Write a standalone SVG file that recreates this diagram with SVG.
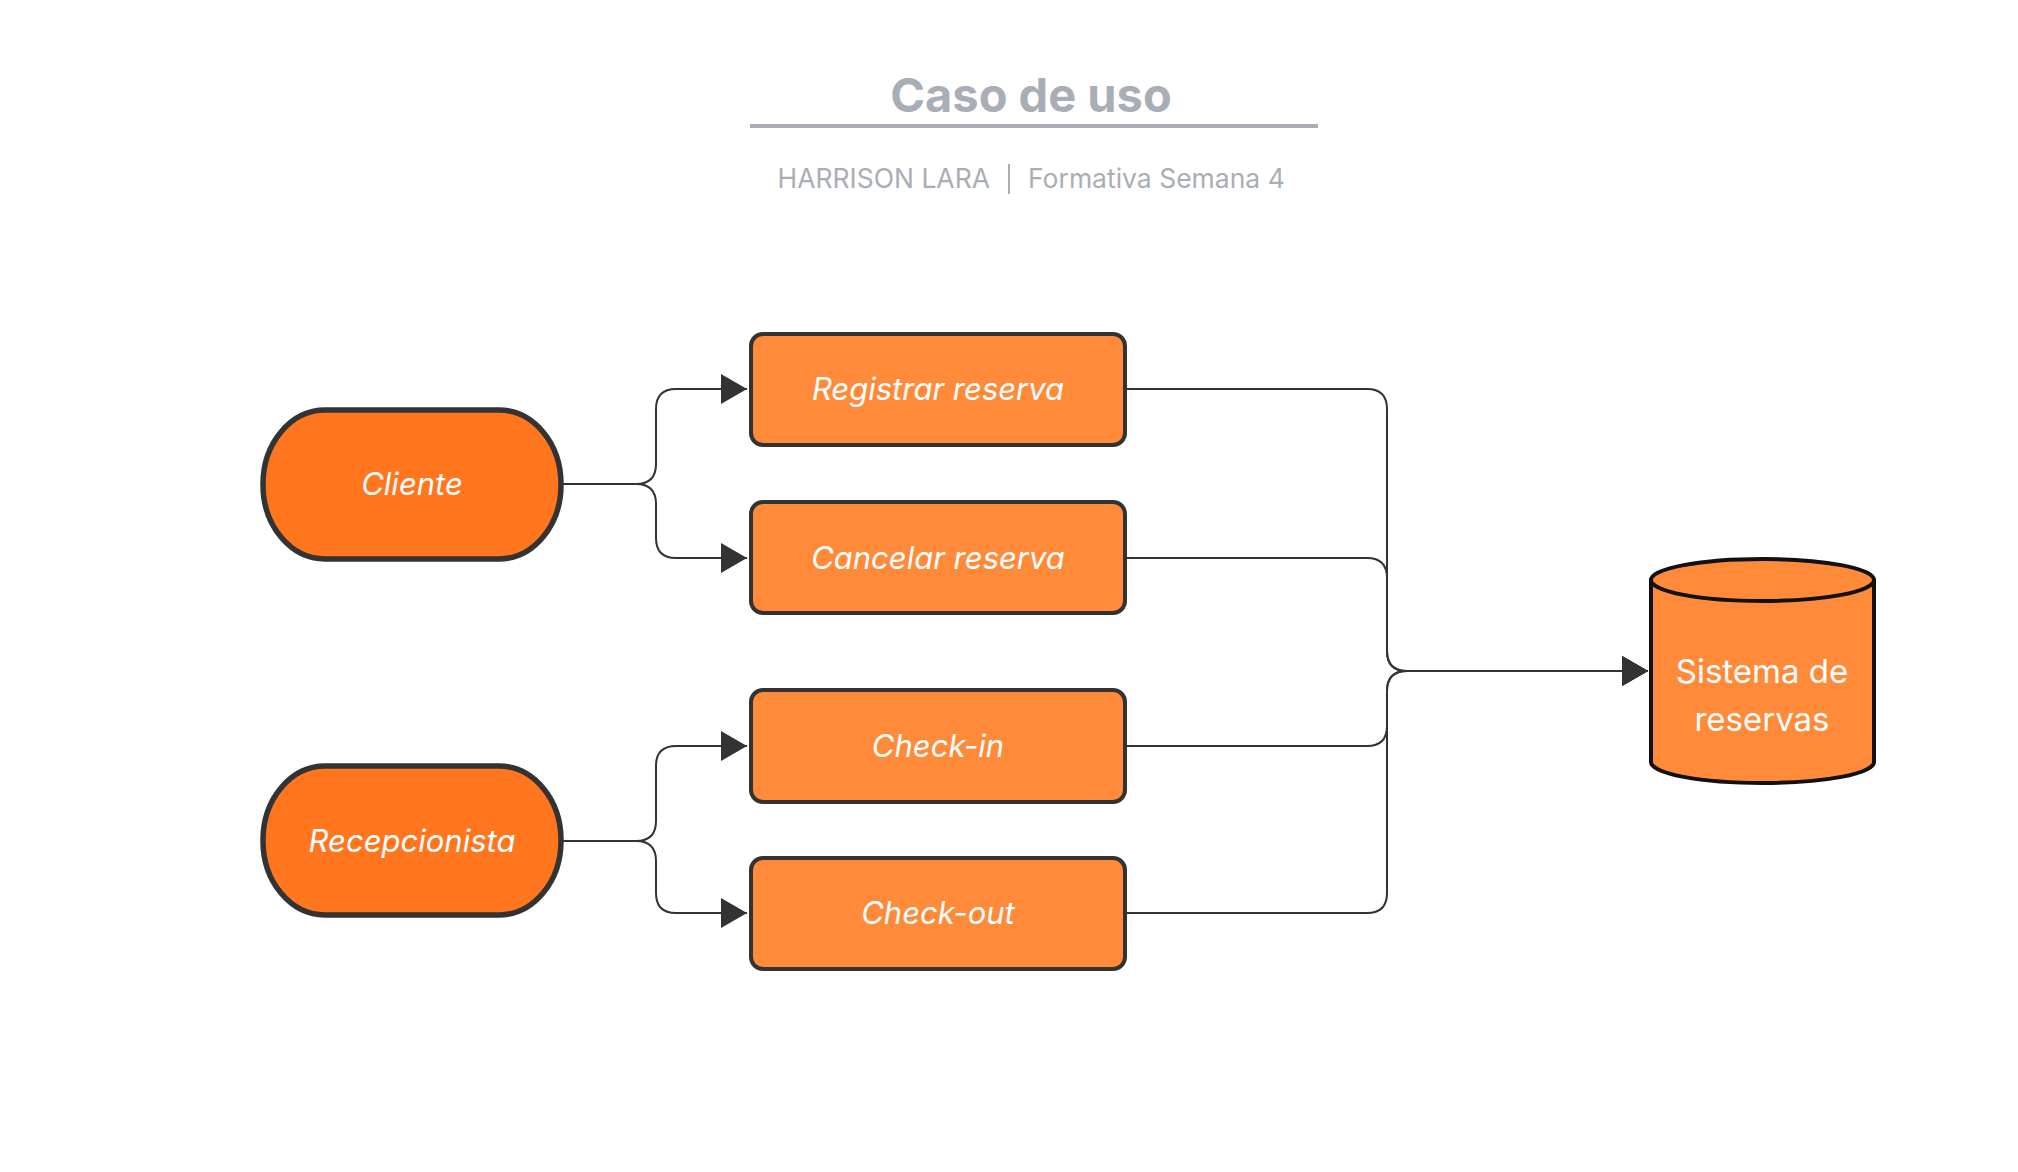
<svg xmlns="http://www.w3.org/2000/svg" width="2018" height="1172" viewBox="0 0 2018 1172">
<defs>
<style>
.title{font-family:Inter,"Liberation Sans",sans-serif;font-weight:700;font-size:47px;fill:#a9aeb6}
.sub{font-family:Inter,"Liberation Sans",sans-serif;font-size:26.5px;fill:#a9aeb6}
.lbl{font-family:Inter,"Liberation Sans",sans-serif;font-size:31px;font-style:italic;fill:#ffffff;text-anchor:middle}
.lbl2{font-family:Inter,"Liberation Sans",sans-serif;font-size:33px;fill:#ffffff;text-anchor:middle}
.actor{fill:#ff761f;stroke:#333333;stroke-width:5.5}
.uc{fill:#ff8a3a;stroke:#333333;stroke-width:4}
.db{fill:#ff8a3a;stroke:#111111;stroke-width:4}
.edge{fill:none;stroke:#333333;stroke-width:2}
</style>
<marker id="arr" markerUnits="userSpaceOnUse" markerWidth="26" markerHeight="30" refX="26" refY="15" orient="auto">
<path d="M0,0 L26,15 L0,30 Z" fill="#333333"/>
</marker>
</defs>
<rect width="2018" height="1172" fill="#ffffff"/>
<g id="header">
<text class="title" x="1031" y="112" text-anchor="middle">Caso de uso</text>
<line x1="750" y1="126" x2="1318" y2="126" stroke="#a9aeb6" stroke-width="4"/>
<text class="sub" x="990" y="188" text-anchor="end">HARRISON LARA</text>
<line x1="1009" y1="164" x2="1009" y2="194" stroke="#a9aeb6" stroke-width="2"/>
<text class="sub" x="1028" y="188">Formativa Semana 4</text>
</g>
<g id="connectors">
<path class="edge" d="M563,484 H636 Q656,484 656,464 V409 Q656,389 676,389 H747" marker-end="url(#arr)"/>
<path class="edge" d="M563,484 H636 Q656,484 656,504 V538 Q656,558 676,558 H747" marker-end="url(#arr)"/>
<path class="edge" d="M563,841 H636 Q656,841 656,821 V766 Q656,746 676,746 H747" marker-end="url(#arr)"/>
<path class="edge" d="M563,841 H636 Q656,841 656,861 V893 Q656,913 676,913 H747" marker-end="url(#arr)"/>
<path class="edge" d="M1125,389 H1367 Q1387,389 1387,409 V651 Q1387,671 1407,671 H1648" marker-end="url(#arr)"/>
<path class="edge" d="M1125,558 H1367 Q1387,558 1387,578 V651 Q1387,671 1407,671 H1648" marker-end="url(#arr)"/>
<path class="edge" d="M1125,746 H1367 Q1387,746 1387,726 V691 Q1387,671 1407,671 H1648" marker-end="url(#arr)"/>
<path class="edge" d="M1125,913 H1367 Q1387,913 1387,893 V691 Q1387,671 1407,671 H1648" marker-end="url(#arr)"/>
</g>
<g id="cliente">
<rect class="actor" x="263" y="410" width="298" height="149" rx="62" ry="74"/>
<text class="lbl" x="412" y="495">Cliente</text>
</g>
<g id="recepcionista">
<rect class="actor" x="263" y="766" width="298" height="149" rx="62" ry="74"/>
<text class="lbl" x="412" y="852">Recepcionista</text>
</g>
<g id="registrar">
<rect class="uc" x="751" y="334" width="374" height="111" rx="12"/>
<text class="lbl" x="938" y="400">Registrar reserva</text>
</g>
<g id="cancelar">
<rect class="uc" x="751" y="502" width="374" height="111" rx="12"/>
<text class="lbl" x="938" y="569">Cancelar reserva</text>
</g>
<g id="checkin">
<rect class="uc" x="751" y="690" width="374" height="112" rx="12"/>
<text class="lbl" x="938" y="757">Check-in</text>
</g>
<g id="checkout">
<rect class="uc" x="751" y="858" width="374" height="111" rx="12"/>
<text class="lbl" x="938" y="924">Check-out</text>
</g>
<g id="sistema">
<path class="db" d="M1651,580 A111.5,21 0 0,1 1874,580 V762 A111.5,21 0 0,1 1651,762 Z"/>
<path class="db" fill="none" d="M1651,580 A111.5,21 0 0,0 1874,580"/>
<text class="lbl2" x="1762" y="683">Sistema de</text>
<text class="lbl2" x="1762" y="731">reservas</text>
</g>
</svg>
